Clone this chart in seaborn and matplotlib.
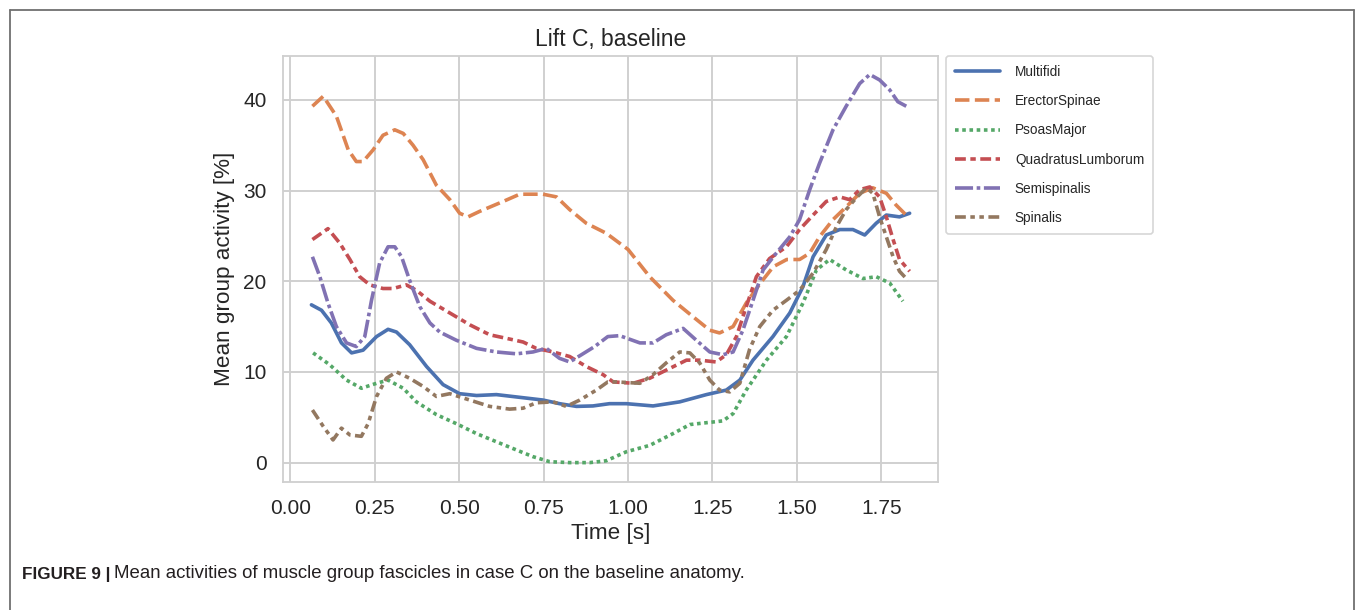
import matplotlib
matplotlib.use("Agg")
import matplotlib.pyplot as plt
from matplotlib.lines import Line2D
import seaborn as sns
import pandas as pd

# ---------------- data ----------------
muscles = ["Multifidi", "ErectorSpinae", "PsoasMajor", "QuadratusLumborum",
           "Semispinalis", "Spinalis"]

multifidi_t = [0.062, 0.092, 0.121, 0.151, 0.181, 0.215, 0.255, 0.289, 0.314, 0.353,
               0.403, 0.452, 0.501, 0.551, 0.61, 0.679, 0.748, 0.797, 0.847, 0.896,
               0.945, 0.995, 1.074, 1.153, 1.232, 1.291, 1.331, 1.37, 1.429, 1.479,
               1.518, 1.548, 1.587, 1.627, 1.666, 1.701, 1.735, 1.765, 1.804, 1.834]
multifidi_y = [17.4, 16.8, 15.4, 13.2, 12.1, 12.4, 13.9, 14.7, 14.4, 13.0,
               10.6, 8.6, 7.6, 7.4, 7.5, 7.2, 6.9, 6.5, 6.2, 6.25,
               6.5, 6.5, 6.25, 6.7, 7.5, 8.0, 9.1, 11.3, 13.9, 16.5,
               19.4, 22.7, 25.1, 25.7, 25.7, 25.1, 26.4, 27.3, 27.1, 27.5]

erector_t = [0.065, 0.097, 0.136, 0.171, 0.195, 0.215, 0.245, 0.274, 0.309, 0.334,
             0.363, 0.393, 0.432, 0.472, 0.501, 0.526, 0.56, 0.63, 0.679, 0.748,
             0.788, 0.827, 0.876, 0.935, 1.0, 1.064, 1.133, 1.192, 1.242, 1.271,
             1.311, 1.35, 1.39, 1.43, 1.47, 1.508, 1.538, 1.567, 1.607, 1.646,
             1.686, 1.725, 1.765, 1.794, 1.829]
erector_y = [39.3, 40.4, 38.2, 34.5, 33.2, 33.2, 34.5, 36.1, 36.7, 36.3,
             35.0, 33.4, 30.6, 29.0, 27.5, 27.1, 27.7, 28.8, 29.6, 29.6,
             29.3, 27.9, 26.4, 25.3, 23.5, 20.5, 17.9, 16.1, 14.6, 14.3,
             15.0, 17.6, 19.7, 21.6, 22.4, 22.4, 23.1, 24.9, 26.8, 28.2,
             29.7, 30.3, 29.7, 28.4, 27.1]

psoas_t = [0.067, 0.116, 0.166, 0.21, 0.255, 0.289, 0.334, 0.373, 0.432, 0.491,
           0.551, 0.61, 0.669, 0.718, 0.768, 0.827, 0.886, 0.935, 0.995, 1.064,
           1.133, 1.183, 1.232, 1.281, 1.311, 1.35, 1.41, 1.469, 1.518, 1.558,
           1.597, 1.646, 1.696, 1.735, 1.775, 1.814]
psoas_y = [12.1, 10.8, 9.1, 8.2, 8.75, 9.1, 8.2, 6.7, 5.3, 4.3,
           3.2, 2.3, 1.4, 0.66, 0.1, 0.0, 0.0, 0.2, 1.2, 1.9,
           3.2, 4.2, 4.4, 4.6, 5.4, 8.0, 11.3, 13.9, 17.6, 21.25,
           22.4, 21.25, 20.3, 20.5, 19.8, 17.8]

quadratus_t = [0.065, 0.111, 0.146, 0.176, 0.205, 0.235, 0.274, 0.304, 0.343, 0.373,
               0.413, 0.472, 0.531, 0.59, 0.64, 0.689, 0.728, 0.778, 0.827, 0.876,
               0.926, 0.956, 1.015, 1.064, 1.113, 1.173, 1.212, 1.261, 1.291, 1.321,
               1.35, 1.38, 1.419, 1.469, 1.508, 1.548, 1.587, 1.627, 1.656, 1.686,
               1.716, 1.745, 1.765, 1.785, 1.804, 1.834]
quadratus_y = [24.6, 25.8, 24.2, 22.4, 20.5, 19.6, 19.2, 19.2, 19.6, 19.0,
               17.8, 16.5, 15.2, 14.1, 13.7, 13.3, 12.6, 12.2, 11.7, 10.6,
               9.7, 8.9, 8.75, 9.3, 10.2, 11.3, 11.3, 11.1, 11.9, 13.9,
               17.2, 20.5, 22.5, 23.8, 25.7, 27.3, 28.8, 29.3, 29.0, 30.1,
               30.4, 29.3, 27.1, 24.6, 22.4, 21.1]

semispinalis_t = [0.065, 0.087, 0.111, 0.136, 0.166, 0.195, 0.22, 0.24, 0.264, 0.289,
                  0.309, 0.329, 0.353, 0.383, 0.413, 0.442, 0.491, 0.551, 0.61, 0.669,
                  0.718, 0.758, 0.797, 0.827, 0.862, 0.901, 0.94, 0.975, 1.035, 1.074,
                  1.113, 1.163, 1.202, 1.242, 1.281, 1.311, 1.34, 1.37, 1.4, 1.439,
                  1.479, 1.508, 1.538, 1.567, 1.607, 1.646, 1.686, 1.716, 1.745, 1.775,
                  1.799, 1.824]
semispinalis_y = [22.7, 20.5, 17.6, 15.0, 13.2, 12.8, 13.9, 17.9, 22.0, 23.8,
                  23.8, 22.7, 20.1, 17.2, 15.4, 14.4, 13.5, 12.6, 12.2, 12.0,
                  12.2, 12.6, 11.5, 11.1, 11.9, 12.8, 13.9, 14.0, 13.2, 13.2,
                  14.1, 14.8, 13.5, 12.2, 11.9, 12.2, 14.6, 17.9, 21.25, 23.1,
                  24.9, 26.8, 30.1, 33.0, 36.7, 39.3, 41.8, 42.8, 42.2, 41.1,
                  39.8, 39.3]

spinalis_t = [0.065, 0.097, 0.126, 0.151, 0.176, 0.21, 0.23, 0.255, 0.284, 0.314,
              0.353, 0.393, 0.432, 0.472, 0.531, 0.59, 0.649, 0.689, 0.728, 0.778,
              0.817, 0.857, 0.906, 0.94, 0.965, 1.035, 1.074, 1.113, 1.153, 1.183,
              1.212, 1.242, 1.271, 1.301, 1.331, 1.36, 1.39, 1.429, 1.469, 1.508,
              1.548, 1.587, 1.617, 1.646, 1.676, 1.706, 1.725, 1.745, 1.765, 1.785,
              1.804, 1.829]
spinalis_y = [5.8, 4.0, 2.5, 3.8, 3.05, 2.9, 4.3, 7.3, 9.3, 10.0,
              9.3, 8.4, 7.3, 7.6, 6.9, 6.2, 5.9, 6.0, 6.6, 6.7,
              6.2, 6.9, 8.0, 8.9, 8.9, 8.75, 9.7, 11.0, 12.2, 12.1,
              11.0, 9.1, 8.0, 7.8, 8.75, 12.5, 15.0, 16.8, 17.9, 19.0,
              20.9, 23.5, 26.0, 27.9, 29.2, 30.3, 29.7, 27.1, 24.9, 22.7,
              21.1, 20.1]

x_ticks = [0.00, 0.25, 0.50, 0.75, 1.00, 1.25, 1.50, 1.75]
y_ticks = [0, 10, 20, 30, 40]

title = "Lift C, baseline"
x_label = "Time [s]"
y_label = "Mean group activity [%]"
caption_bold = "FIGURE 9 |"
caption_text = "Mean activities of muscle group fascicles in case C on the baseline anatomy."

series = {
    "Multifidi": (multifidi_t, multifidi_y),
    "ErectorSpinae": (erector_t, erector_y),
    "PsoasMajor": (psoas_t, psoas_y),
    "QuadratusLumborum": (quadratus_t, quadratus_y),
    "Semispinalis": (semispinalis_t, semispinalis_y),
    "Spinalis": (spinalis_t, spinalis_y),
}
rows = []
for name in muscles:
    ts, ys = series[name]
    for t, v in zip(ts, ys):
        rows.append({"Time": t, "Activity": v, "Muscle": name})
df = pd.DataFrame(rows)

# ---------------- style ----------------
sns.set_theme(style="whitegrid", palette="deep")
plt.rcParams["font.family"] = ["Liberation Sans", "DejaVu Sans"]
plt.rcParams["grid.linewidth"] = 1.35
plt.rcParams["grid.color"] = "#cfcfcf"
plt.rcParams["axes.edgecolor"] = "#cfcfcf"
plt.rcParams["axes.linewidth"] = 1.3

fig = plt.figure(figsize=(13.55, 6.10), dpi=100)
ax = fig.add_axes([0.2089, 0.2098, 0.4836, 0.6984])

lw = 2.6
sns.lineplot(data=df, x="Time", y="Activity", hue="Muscle", style="Muscle",
             hue_order=muscles, style_order=muscles, linewidth=lw,
             estimator=None, sort=True, ax=ax)

ax.set_xlim(-0.022, 1.919)
ax.set_ylim(-2.14, 44.84)
ax.set_xticks(x_ticks)
ax.set_yticks(y_ticks)
ax.set_xticklabels([f"{v:.2f}" for v in x_ticks])
ax.tick_params(axis="both", labelsize=15, length=0, pad=12, colors="#262626")
ax.set_xlabel(x_label, fontsize=16.2, color="#262626", labelpad=4)
ax.set_ylabel(y_label, fontsize=16.2, color="#262626", labelpad=6)
ax.set_title(title, fontsize=16.5, color="#262626", pad=7)

handles, labels = ax.get_legend_handles_labels()
for h in handles:
    h.set_linewidth(lw)
leg = ax.legend(handles, labels, loc="upper left", bbox_to_anchor=(1.012, 1.0),
                borderaxespad=0, fontsize=9.8, handlelength=3.3,
                labelspacing=1.12, borderpad=0.65, handletextpad=1.1,
                frameon=True, fancybox=True)
leg.get_frame().set_edgecolor("#cccccc")
leg.get_frame().set_linewidth(1.2)

# figure frame (top, left, right edges)
fw, fh = 1355.0, 610.0
frame_kw = dict(color="#707070", linewidth=1.3, transform=fig.transFigure)
fig.add_artist(Line2D([9.5 / fw, 1353.5 / fw], [1 - 10 / fh, 1 - 10 / fh], **frame_kw))
fig.add_artist(Line2D([9.5 / fw, 9.5 / fw], [0, 1 - 10 / fh], **frame_kw))
fig.add_artist(Line2D([1353.5 / fw, 1353.5 / fw], [0, 1 - 10 / fh], **frame_kw))

# caption
cap_y = 1 - 574 / fh
t1 = fig.text(22 / fw, cap_y, caption_bold, fontsize=12.3, fontweight="bold",
              color="#231f20", va="center", ha="left")
fig.canvas.draw()
bb = t1.get_window_extent(renderer=fig.canvas.get_renderer())
fig.text(bb.x1 / fw + 4 / fw, cap_y, caption_text, fontsize=13.4,
         color="#231f20", va="center", ha="left")

fig.savefig("out.png", dpi=100)
